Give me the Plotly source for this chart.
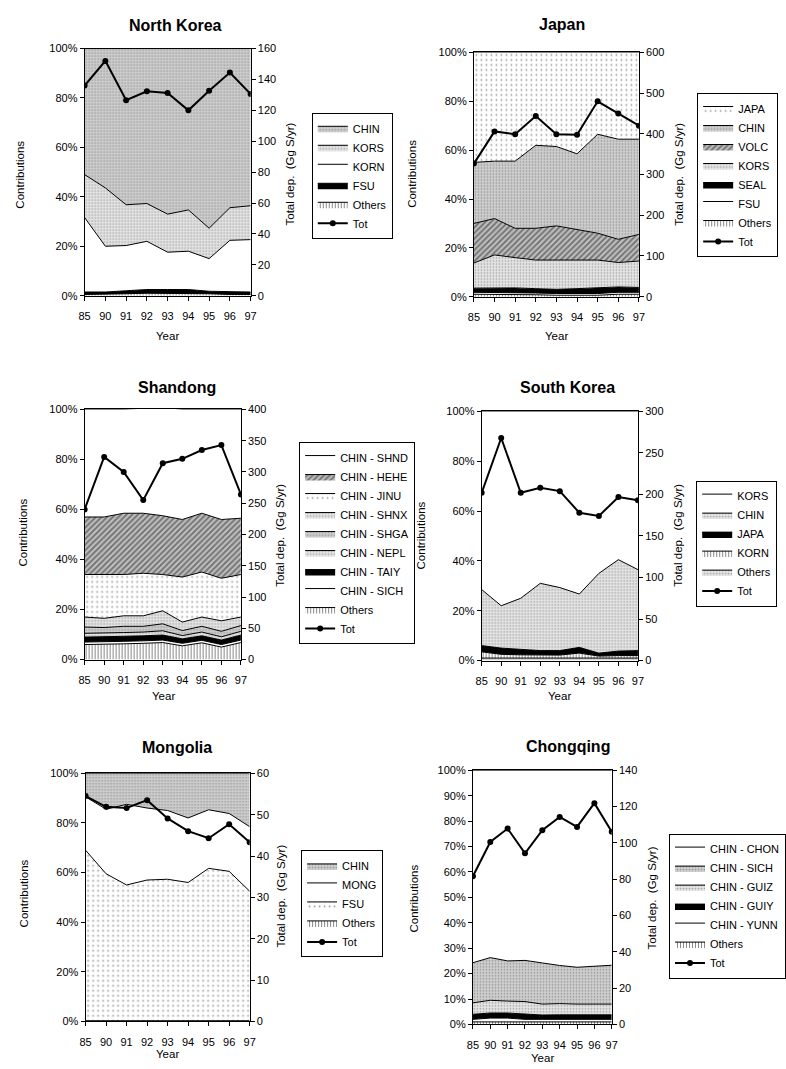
import plotly.graph_objects as go

W, H = 786, 1069
years = ["85", "90", "91", "92", "93", "94", "95", "96", "97"]

# ---------------- data (percent contributions, bottom layer listed last in legend) -------------
# North Korea
nk_names = ["CHIN", "KORS", "KORN", "FSU", "Others"]
nk_chin = [51, 56.4, 63.2, 62.7, 67, 65.3, 72.7, 64.4, 63.6]
nk_kors = [17.4, 23.6, 16.5, 15.3, 15.4, 16.7, 12.3, 13.2, 13.7]
nk_korn = [30.1, 18.5, 18.3, 19.5, 15.1, 15.5, 13.2, 20.9, 21.2]
nk_fsu = [1, 1, 1.2, 1.5, 1.5, 1.5, 1, 1, 1]
nk_oth = [0.5, 0.5, 0.8, 1, 1, 1, 0.8, 0.5, 0.5]
nk_tot = [136, 152, 126.5, 132.3, 131.2, 120, 132.7, 144.4, 130.6]

# Japan
jp_names = ["JAPA", "CHIN", "VOLC", "KORS", "SEAL", "FSU", "Others"]
jp_japa = [45, 44.5, 44.5, 38, 38.5, 41.5, 33.5, 35.5, 35.5]
jp_chin = [25, 23.5, 27.5, 34, 32.5, 31, 40.5, 41, 39]
jp_volc = [16.2, 14.9, 12, 13, 14, 12.5, 11, 9.5, 10.9]
jp_kors = [10.3, 13.5, 12.4, 11.7, 12.0, 11.7, 11.5, 10.0, 10.8]
jp_seal = [1.7, 1.8, 1.8, 1.8, 1.7, 2.0, 2.2, 2.2, 2.0]
jp_fsu = [0.8, 0.8, 0.8, 0.7, 0.7, 0.7, 0.7, 0.8, 0.8]
jp_oth = [1, 1, 1, 0.8, 0.6, 0.6, 0.6, 1, 1]
jp_tot = [327, 406, 399, 444, 399, 398, 480, 450, 420]

# Shandong
sd_names = ["CHIN - SHND", "CHIN - HEHE", "CHIN - JINU", "CHIN - SHNX", "CHIN - SHGA",
            "CHIN - NEPL", "CHIN - TAIY", "CHIN - SICH", "Others"]
sd_shnd = [43, 43, 41.5, 42, 43.5, 44, 41.5, 44, 43.5]
sd_hehe = [23, 23, 24.5, 24, 23.5, 23, 23.5, 23.5, 22.5]
sd_jinu = [17, 17.5, 16.5, 17, 14.5, 18, 18, 17, 17]
sd_shnx = [4, 3.7, 4.2, 4.2, 5.2, 3.4, 3.7, 4.2, 3.4]
sd_shga = [2.5, 2.3, 2.5, 2.3, 2.8, 2, 2.3, 2.2, 2.3]
sd_nepl = [1.5, 1.5, 1.5, 1.5, 1.7, 1.3, 1.5, 1.3, 1.5]
sd_taiy = [2, 2, 2, 2, 2, 1.8, 1.8, 1.8, 2]
sd_sich = [1, 1, 1, 1, 1, 1, 1, 1, 1]
sd_oth = [6, 6, 6.3, 6.5, 6.8, 5.5, 6.7, 5, 6.8]
sd_tot = [240, 324, 300, 255, 314, 321, 335, 343, 264]

# South Korea
sk_names = ["KORS", "CHIN", "JAPA", "KORN", "Others"]
sk_kors = [71.5, 78, 75, 69, 70.7, 73.3, 65, 59.5, 63.5]
sk_chin = [22.5, 17, 20.5, 27, 25.3, 21.4, 32, 36.7, 32.5]
sk_japa = [2.5, 2.5, 2.2, 1.8, 1.8, 2.3, 1.2, 1.8, 2]
sk_korn = [2.5, 1.5, 1.3, 1.2, 1.2, 1.7, 0.8, 1, 1]
sk_oth = [1, 1, 1, 1, 1, 1.3, 1, 1, 1]
sk_tot = [202, 268, 202, 208, 204, 178, 174, 197, 193]

# Mongolia
mg_names = ["CHIN", "MONG", "FSU", "Others"]
mg_chin = [9.5, 14.5, 12.5, 14, 15, 18, 14.7, 16.2, 21.5]
mg_mong = [21.5, 26, 32.5, 29, 27.7, 26, 23.6, 23.3, 26]
mg_fsu = [68.7, 59.2, 54.7, 56.7, 57, 55.7, 61.4, 60.2, 52.2]
mg_oth = [0.3, 0.3, 0.3, 0.3, 0.3, 0.3, 0.3, 0.3, 0.3]
mg_tot = [54.5, 51.9, 51.6, 53.5, 49.1, 46, 44.3, 47.7, 43.3]

# Chongqing
cq_names = ["CHIN - CHON", "CHIN - SICH", "CHIN - GUIZ", "CHIN - GUIY", "CHIN - YUNN", "Others"]
cq_chon = [75.7, 73.7, 75, 74.8, 75.8, 76.8, 77.5, 77, 76.7]
cq_sich = [15.8, 16.8, 15.8, 16.2, 16.2, 15, 14.5, 15, 15.3]
cq_guiz = [4.5, 5, 4.7, 4.8, 4.3, 4.4, 4.2, 4.2, 4.2]
cq_guiy = [2, 2, 2, 2.2, 1.7, 1.8, 1.8, 1.8, 1.8]
cq_yunn = [1, 1.5, 1.5, 1, 1, 1, 1, 1, 1]
cq_oth = [1, 1, 1, 1, 1, 1, 1, 1, 1]
cq_tot = [81.6, 100.5, 107.9, 94.3, 107, 114.3, 108.8, 121.9, 106.1]

titles = ["North Korea", "Japan", "Shandong", "South Korea", "Mongolia", "Chongqing"]
tot_max = [160, 600, 400, 300, 60, 140]
tot_dtick = [20, 100, 50, 50, 10, 20]
pct_dtick = [20, 20, 20, 20, 20, 10]

# ---------------- styles ----------------
WHITE = dict(kind="solid", color="white")
BLACK = dict(kind="solid", color="black")
LDOT = dict(kind="pat", shape=".", bg="white", fg="#333", size=5, sol=0.1)
MDOT = dict(kind="pat", shape=".", bg="#e6e6e6", fg="#555", size=3, sol=0.25)
DDOT = dict(kind="pat", shape=".", bg="#cfcfcf", fg="#555", size=3, sol=0.25)
DIAG = dict(kind="pat", shape="/", bg="#bdbdbd", fg="#222", size=4, sol=0.45)
VERT = dict(kind="pat", shape="|", bg="white", fg="#111", size=3, sol=0.35)

panels = [
    (nk_names, [nk_chin, nk_kors, nk_korn, nk_fsu, nk_oth], [DDOT, MDOT, WHITE, BLACK, VERT], nk_tot),
    (jp_names, [jp_japa, jp_chin, jp_volc, jp_kors, jp_seal, jp_fsu, jp_oth],
     [LDOT, DDOT, DIAG, MDOT, BLACK, WHITE, VERT], jp_tot),
    (sd_names, [sd_shnd, sd_hehe, sd_jinu, sd_shnx, sd_shga, sd_nepl, sd_taiy, sd_sich, sd_oth],
     [WHITE, DIAG, LDOT, MDOT, DDOT, MDOT, BLACK, WHITE, VERT], sd_tot),
    (sk_names, [sk_kors, sk_chin, sk_japa, sk_korn, sk_oth], [WHITE, MDOT, BLACK, VERT, MDOT], sk_tot),
    (mg_names, [mg_chin, mg_mong, mg_fsu, mg_oth], [DDOT, WHITE, LDOT, VERT], mg_tot),
    (cq_names, [cq_chon, cq_sich, cq_guiz, cq_guiy, cq_yunn, cq_oth],
     [WHITE, DDOT, MDOT, BLACK, WHITE, VERT], cq_tot),
]

# ---------------- layout geometry (pixels) ----------------
plot_boxes = [(81, 252, 43, 293), (482, 652, 47, 294), (81, 242, 408, 661),
              (490, 651, 410, 662), (82, 251, 776, 1027), (481, 624, 773, 1030)]
legend_pos = [(315, 108), (712, 88), (302, 441), (711, 480), (304, 854), (683, 837)]
title_pos = [(175, 20), (573, 19), (176, 386), (578, 386), (176, 750), (579, 749)]
year_pos = [(166, 334), (567, 334), (162, 698), (570, 698), (166, 1060), (553, 1064)]
contrib_pos = [(15, 171), (418, 170), (18, 532), (428, 535), (18, 897), (420, 903)]
totdep_pos = [(293, 170), (693, 170), (282, 535), (692, 535), (283, 900), (665, 902)]

FONT = "Liberation Sans, Arial, sans-serif"

def px(x):
    return x / W

def py(y):
    return 1 - y / H

fig = go.Figure()
layout = dict(width=W, height=H, margin=dict(l=0, r=0, t=0, b=0),
              paper_bgcolor="white", plot_bgcolor="white",
              font=dict(family=FONT, size=11, color="black"), showlegend=True)
annotations = []

for i, (names, vals, styles, tot) in enumerate(panels, start=1):
    xa = "x" if i == 1 else f"x{i}"
    ya = "y" if i == 1 else f"y{i}"
    ya2 = f"y{i + 6}"
    lg = "legend" if i == 1 else f"legend{i}"
    n = len(names)
    for k in reversed(range(n)):
        st = styles[k]
        kw = dict(x=years, y=vals[k], name=names[k], mode="lines",
                  line=dict(color="black", width=1), stackgroup=f"s{i}",
                  xaxis=xa, yaxis=ya, legend=lg, legendrank=k + 1, hoverinfo="skip")
        if st["kind"] == "solid":
            kw["fillcolor"] = st["color"]
        else:
            kw["fillcolor"] = st["bg"]
            kw["fillpattern"] = dict(shape=st["shape"], bgcolor=st["bg"], fgcolor=st["fg"],
                                     size=st["size"], solidity=st["sol"])
        fig.add_trace(go.Scatter(**kw))
    fig.add_trace(go.Scatter(x=years, y=tot, name="Tot", mode="lines+markers",
                             line=dict(color="black", width=2),
                             marker=dict(color="black", size=6, symbol="circle"),
                             xaxis=xa, yaxis=ya2, legend=lg, legendrank=n + 1, hoverinfo="skip"))

    x0, x1, y0, y1 = plot_boxes[i - 1]
    xkey = "xaxis" if i == 1 else f"xaxis{i}"
    ykey = "yaxis" if i == 1 else f"yaxis{i}"
    y2key = f"yaxis{i + 6}"
    layout[xkey] = dict(domain=[px(x0), px(x1)], anchor=ya, type="category",
                        range=[0, len(years) - 1], showline=True, linecolor="black",
                        linewidth=1, mirror=True, ticks="outside", ticklen=4,
                        tickcolor="black", showgrid=False, zeroline=False,
                        ticklabelstandoff=6,
                        tickfont=dict(family=FONT, size=11), fixedrange=True)
    layout[ykey] = dict(domain=[py(y1), py(y0)], anchor=xa, range=[0, 100],
                        dtick=pct_dtick[i - 1], ticksuffix="%", showline=True,
                        linecolor="black", linewidth=1, ticks="outside", ticklen=4,
                        tickcolor="black", showgrid=False, zeroline=False,
                        tickfont=dict(family=FONT, size=11), fixedrange=True)
    layout[y2key] = dict(overlaying=ya, anchor=xa, side="right", range=[0, tot_max[i - 1]],
                         dtick=tot_dtick[i - 1], showline=True, linecolor="black",
                         linewidth=1, ticks="outside", ticklen=4, tickcolor="black",
                         showgrid=False, zeroline=False,
                         tickfont=dict(family=FONT, size=11), fixedrange=True)
    lx, ly = legend_pos[i - 1]
    layout[lg] = dict(x=px(lx), y=py(ly), xanchor="left", yanchor="top",
                      bordercolor="black", borderwidth=1, bgcolor="white",
                      font=dict(family=FONT, size=11, color="black"),
                      traceorder="normal", itemwidth=30, tracegroupgap=0)

    tx, ty = title_pos[i - 1]
    annotations.append(dict(x=px(tx), y=py(ty), xref="paper", yref="paper",
                            text=f"<b>{titles[i - 1]}</b>", showarrow=False,
                            font=dict(family=FONT, size=16, color="black"),
                            xanchor="center", yanchor="middle"))
    yx, yy = year_pos[i - 1]
    annotations.append(dict(x=px(yx), y=py(yy), xref="paper", yref="paper", text="Year",
                            showarrow=False, font=dict(family=FONT, size=11.5),
                            xanchor="center", yanchor="middle"))
    cx, cy = contrib_pos[i - 1]
    annotations.append(dict(x=px(cx), y=py(cy), xref="paper", yref="paper",
                            text="Contributions", textangle=-90, showarrow=False,
                            font=dict(family=FONT, size=11.5), xanchor="center", yanchor="middle"))
    dx, dy = totdep_pos[i - 1]
    annotations.append(dict(x=px(dx), y=py(dy), xref="paper", yref="paper",
                            text="Total dep.  (Gg S/yr)", textangle=-90, showarrow=False,
                            font=dict(family=FONT, size=11.5), xanchor="center", yanchor="middle"))

layout["annotations"] = annotations
fig.update_layout(**layout)
fig.write_html("out.html")
